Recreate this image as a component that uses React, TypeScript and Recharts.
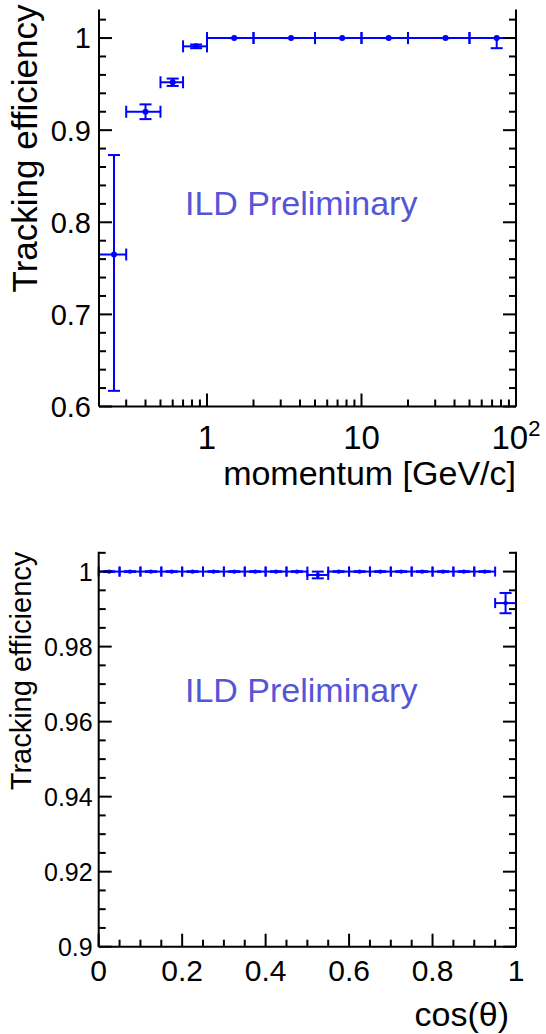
import React from 'react';
import { ComposedChart, Scatter, XAxis, YAxis, ErrorBar } from 'recharts';

// ---- efficiency vs momentum (log x) ----
const momBinLow = [0.2, 0.3, 0.5, 0.7, 1, 2, 5, 10, 20, 50];
const momBinHigh = [0.3, 0.5, 0.7, 1, 2, 5, 10, 20, 50, 100];
const momCenter = [0.25, 0.4, 0.6, 0.85, 1.5, 3.5, 7.5, 15, 35, 75];
const momEff = [0.765, 0.92, 0.952, 0.991, 1, 1, 1, 1, 1, 1];
const momErrLow = [0.148, 0.008, 0.004, 0.002, 0, 0, 0, 0, 0, 0.011];
const momErrHigh = [0.108, 0.008, 0.004, 0.002, 0, 0, 0, 0, 0, 0];

const momMajorTicks = [1, 10, 100];
const momMinorTicks = [0.3, 0.4, 0.5, 0.6, 0.7, 0.8, 0.9, 2, 3, 4, 5, 6, 7, 8, 9, 20, 30, 40, 50, 60, 70, 80, 90];
const effMajorTicks = [0.6, 0.7, 0.8, 0.9, 1];

// ---- efficiency vs cos(theta) ----
const cosBinLow = [0, 0.05, 0.1, 0.15, 0.2, 0.25, 0.3, 0.35, 0.4, 0.45, 0.5, 0.55, 0.6, 0.65, 0.7, 0.75, 0.8, 0.85, 0.9, 0.95];
const cosBinHigh = [0.05, 0.1, 0.15, 0.2, 0.25, 0.3, 0.35, 0.4, 0.45, 0.5, 0.55, 0.6, 0.65, 0.7, 0.75, 0.8, 0.85, 0.9, 0.95, 1];
const cosCenter = [0.025, 0.075, 0.125, 0.175, 0.225, 0.275, 0.325, 0.375, 0.425, 0.475, 0.525, 0.575, 0.625, 0.675, 0.725, 0.775, 0.825, 0.875, 0.925, 0.975];
const cosEff = [1, 1, 1, 1, 1, 1, 1, 1, 1, 1, 0.9991, 1, 1, 1, 1, 1, 1, 1, 1, 0.9916];
const cosErr = [0.0001, 0.0001, 0.0001, 0.0001, 0.0001, 0.0001, 0.0001, 0.0001, 0.0001, 0.0001, 0.0009, 0.0001, 0.0001, 0.0001, 0.0001, 0.0001, 0.0001, 0.0001, 0.0001, 0.0027];

const cosMajorTicks = [0, 0.2, 0.4, 0.6, 0.8, 1];
const effFineMajorTicks = [0.9, 0.92, 0.94, 0.96, 0.98, 1];

const BLUE = '#0000ff';
const FONT = '"Liberation Sans", Arial, Helvetica, sans-serif';

const momData = momCenter.map((x, i) => ({
  x,
  y: momEff[i],
  ex: [x - momBinLow[i], momBinHigh[i] - x],
  ey: [momErrLow[i], momErrHigh[i]],
}));

const cosData = cosCenter.map((x, i) => ({
  x,
  y: cosEff[i],
  ex: [x - cosBinLow[i], cosBinHigh[i] - x],
  ey: [cosErr[i], cosErr[i]],
}));

// fill in minor ticks between majors
function withMinors(majors: number[], step: number, upTo: number) {
  const out: number[] = [];
  const n = Math.round((upTo - majors[0]) / step);
  for (let i = 0; i <= n; i++) out.push(+(majors[0] + i * step).toFixed(4));
  return out;
}

const near = (a: number, b: number) => Math.abs(a - b) < 1e-7;

type Side = 'bottom' | 'top' | 'left' | 'right';

function makeTick(side: Side, majors: number[], opts: { fs?: number; gap?: number; fmt?: (v: number) => React.ReactNode; labels?: boolean } = {}) {
  const { fs = 28, gap = 8, fmt = (v: number) => String(v), labels = false } = opts;
  return (props: any) => {
    const { x, y, payload } = props;
    const v = payload.value;
    const major = majors.some((m) => near(m, v));
    const len = major ? 13 : 7;
    let line;
    let label = null;
    if (side === 'bottom') {
      line = <line x1={x} y1={y} x2={x} y2={y - len} />;
      if (labels && major)
        label = (
          <text x={x} y={y + gap} textAnchor="middle" fontSize={fs} fill="#000" stroke="none" fontFamily={FONT}>
            {fmt(v)}
          </text>
        );
    } else if (side === 'top') {
      line = <line x1={x} y1={y} x2={x} y2={y + len} />;
    } else if (side === 'left') {
      line = <line x1={x} y1={y} x2={x + len} y2={y} />;
      if (labels && major)
        label = (
          <text x={x - gap} y={y + fs * 0.36} textAnchor="end" fontSize={fs} fill="#000" stroke="none" fontFamily={FONT}>
            {fmt(v)}
          </text>
        );
    } else {
      line = <line x1={x} y1={y} x2={x - len} y2={y} />;
    }
    return (
      <g stroke="#000" strokeWidth={2}>
        {line}
        {label}
      </g>
    );
  };
}

const logFmt = (v: number) =>
  near(v, 100) ? (
    <>
      <tspan>10</tspan>
      <tspan dy={-13} fontSize={22}>2</tspan>
    </>
  ) : (
    String(v)
  );

const dot = (r: number) => (p: any) => <circle cx={p.cx} cy={p.cy} r={r} fill={BLUE} />;

const axisLine = { stroke: '#000', strokeWidth: 2 };

function yTitle(text: string, fs: number, bx: number, dy: number) {
  return (p: any) => {
    const vb = p.viewBox;
    const ty = vb.y + dy;
    return (
      <text
        x={bx}
        y={ty}
        transform={`rotate(-90 ${bx} ${ty})`}
        textAnchor="end"
        fontSize={fs}
        fontFamily={FONT}
        fill="#000"
      >
        {text}
      </text>
    );
  };
}

function xTitle(text: string, fs: number, dy: number, dx = 0) {
  return (p: any) => {
    const vb = p.viewBox;
    return (
      <text x={vb.x + vb.width + dx} y={vb.y + dy} textAnchor="end" fontSize={fs} fontFamily={FONT} fill="#000">
        {text}
      </text>
    );
  };
}

function MomentumPlot() {
  const ticks = [...momMinorTicks, ...momMajorTicks].sort((a, b) => a - b);
  const yTicks = withMinors(effMajorTicks, 0.02, 1.02);
  return (
    <ComposedChart width={546} height={505} margin={{ top: 9.5, right: 0, bottom: 0, left: 0 }}>
      <XAxis
        xAxisId="b"
        dataKey="x"
        type="number"
        scale="log"
        domain={[0.2, 100]}
        allowDataOverflow
        ticks={ticks}
        interval={0}
        height={98.5}
        tickSize={0}
        tickMargin={0}
        tickLine={false}
        axisLine={axisLine}
        tick={makeTick('bottom', momMajorTicks, { labels: true, fs: 33, gap: 42, fmt: logFmt })}
        label={xTitle('momentum [GeV/c]', 34, 78)}
      />
      <XAxis
        xAxisId="t"
        orientation="top"
        dataKey="x"
        type="number"
        scale="log"
        domain={[0.2, 100]}
        allowDataOverflow
        ticks={ticks}
        interval={0}
        height={0}
        tickSize={0}
        tickMargin={0}
        tickLine={false}
        axisLine={axisLine}
        tick={makeTick('top', momMajorTicks)}
      />
      <YAxis
        yAxisId="l"
        dataKey="y"
        type="number"
        domain={[0.6, 1.031]}
        allowDataOverflow
        ticks={yTicks}
        interval={0}
        width={99}
        tickSize={0}
        tickMargin={0}
        tickLine={false}
        axisLine={axisLine}
        tick={makeTick('left', effMajorTicks, { labels: true, fs: 29, gap: 8 })}
        label={yTitle('Tracking efficiency', 35, 37, -5)}
      />
      <YAxis
        yAxisId="r"
        orientation="right"
        dataKey="y"
        type="number"
        domain={[0.6, 1.031]}
        allowDataOverflow
        ticks={yTicks}
        interval={0}
        width={30}
        tickSize={0}
        tickMargin={0}
        tickLine={false}
        axisLine={axisLine}
        tick={makeTick('right', effMajorTicks)}
      />
      <Scatter xAxisId="b" yAxisId="l" data={momData} dataKey="y" shape={dot(3)} isAnimationActive={false}>
        <ErrorBar dataKey="ex" direction="x" stroke={BLUE} strokeWidth={2} width={6} isAnimationActive={false} />
        <ErrorBar dataKey="ey" direction="y" stroke={BLUE} strokeWidth={2} width={6} isAnimationActive={false} />
      </Scatter>
      <text x={185} y={215} fontSize={34} fontFamily={FONT} fill="#5555d8">
        ILD Preliminary
      </text>
    </ComposedChart>
  );
}

function CosThetaPlot() {
  const xTicks = withMinors(cosMajorTicks, 0.05, 1);
  const yTicks = withMinors(effFineMajorTicks, 0.005, 1.005);
  return (
    <ComposedChart width={546} height={529} margin={{ top: 46.7, right: 0, bottom: 0, left: 0 }}>
      <XAxis
        xAxisId="b"
        dataKey="x"
        type="number"
        domain={[0, 1]}
        allowDataOverflow
        ticks={xTicks}
        interval={0}
        height={87.3}
        tickSize={0}
        tickMargin={0}
        tickLine={false}
        axisLine={axisLine}
        tick={makeTick('bottom', cosMajorTicks, { labels: true, fs: 30, gap: 34 })}
        label={xTitle('cos(\u03b8)', 34, 79, -7)}
      />
      <XAxis
        xAxisId="t"
        orientation="top"
        dataKey="x"
        type="number"
        domain={[0, 1]}
        allowDataOverflow
        ticks={xTicks}
        interval={0}
        height={0}
        tickSize={0}
        tickMargin={0}
        tickLine={false}
        axisLine={axisLine}
        tick={makeTick('top', cosMajorTicks)}
      />
      <YAxis
        yAxisId="l"
        dataKey="y"
        type="number"
        domain={[0.9, 1.0053]}
        allowDataOverflow
        ticks={yTicks}
        interval={0}
        width={98.7}
        tickSize={0}
        tickMargin={0}
        tickLine={false}
        axisLine={axisLine}
        tick={makeTick('left', effFineMajorTicks, { labels: true, fs: 25, gap: 6 })}
        label={yTitle('Tracking efficiency', 29, 31, 0)}
      />
      <YAxis
        yAxisId="r"
        orientation="right"
        dataKey="y"
        type="number"
        domain={[0.9, 1.0053]}
        allowDataOverflow
        ticks={yTicks}
        interval={0}
        width={30}
        tickSize={0}
        tickMargin={0}
        tickLine={false}
        axisLine={axisLine}
        tick={makeTick('right', effFineMajorTicks)}
      />
      <Scatter xAxisId="b" yAxisId="l" data={cosData} dataKey="y" shape={dot(2.2)} isAnimationActive={false}>
        <ErrorBar dataKey="ex" direction="x" stroke={BLUE} strokeWidth={2} width={5} isAnimationActive={false} />
        <ErrorBar dataKey="ey" direction="y" stroke={BLUE} strokeWidth={2} width={6} isAnimationActive={false} />
      </Scatter>
      <text x={185} y={197} fontSize={34} fontFamily={FONT} fill="#5555d8">
        ILD Preliminary
      </text>
    </ComposedChart>
  );
}

export default function App() {
  return (
    <div style={{ position: 'absolute', left: 0, top: 0, width: 546, height: 1034, background: '#fff' }}>
      <div style={{ position: 'absolute', left: 0, top: 0 }}>
        <MomentumPlot />
      </div>
      <div style={{ position: 'absolute', left: 0, top: 505 }}>
        <CosThetaPlot />
      </div>
    </div>
  );
}
